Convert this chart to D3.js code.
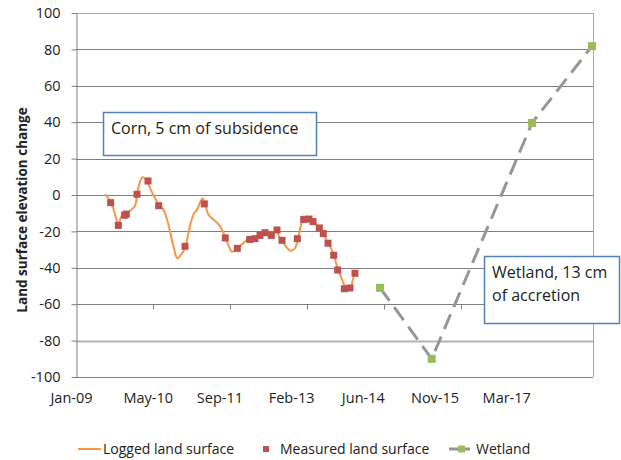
<!DOCTYPE html>
<html>
<head>
<meta charset="utf-8">
<script src="https://cdn.jsdelivr.net/npm/d3@7"></script>
<style>
  body { margin: 0; background: #fff; }
  text { font-family: "Open Sans", sans-serif; fill: #222; }
</style>
</head>
<body>
<div id="chart"></div>
<script>

// decimal years
var loggedYears = [2009.554, 2009.662, 2009.732, 2009.808, 2009.872, 2009.948, 2010.063, 2010.126, 2010.165, 2010.209,
    2010.266, 2010.324, 2010.387, 2010.476, 2010.578, 2010.667, 2010.731, 2010.795, 2010.858, 2010.935,
    2010.998, 2011.081, 2011.132, 2011.189, 2011.253, 2011.316, 2011.367, 2011.418, 2011.469, 2011.533,
    2011.635, 2011.736, 2011.826, 2011.908, 2011.978, 2012.080, 2012.169, 2012.246, 2012.322, 2012.417,
    2012.513, 2012.608, 2012.704, 2012.799, 2012.837, 2012.876, 2012.939, 2013.022, 2013.099, 2013.175,
    2013.226, 2013.270, 2013.327, 2013.404, 2013.480, 2013.544, 2013.607, 2013.671, 2013.735, 2013.798,
    2013.862, 2013.926, 2013.989, 2014.053, 2014.123, 2014.180, 2014.244, 2014.288, 2014.326];
var loggedValues = [0.5, -3.7, -9.2, -15.9, -11.5, -10.4, -7.9, -6.0, 0.4, 6.0,
    9.7, 9.0, 5.5, 0, -5.1, -7.9, -12.8, -20.1, -28.0, -34.8,
    -33.0, -29.3, -22.9, -15.6, -10.1, -7.9, -4.2, -1.8, -5.5, -11.0,
    -13.7, -16.5, -21.4, -27.5, -31.1, -29.9, -27.1, -25.1, -24.2, -23.6,
    -22.0, -20.3, -21.4, -20.3, -19.6, -22.9, -25.1, -28.8, -30.6, -29.5,
    -25.6, -19.6, -14.1, -12.8, -13.4, -14.8, -16.8, -19.2, -22.2, -25.5,
    -28.8, -33.5, -39.7, -44.5, -49.5, -51.8, -50.7, -46.3, -43.0];

var measuredYears = [2009.662, 2009.808, 2009.929, 2009.961, 2010.165, 2010.375, 2010.578, 2011.081, 2011.450, 2011.850,
    2012.080, 2012.316, 2012.417, 2012.513, 2012.608, 2012.729, 2012.837, 2012.933, 2013.225, 2013.347,
    2013.448, 2013.525, 2013.645, 2013.721, 2013.811, 2013.920, 2013.996, 2014.122, 2014.231, 2014.326];
var measuredValues = [-4.2, -16.7, -11.1, -10.5, 0.4, 7.7, -5.9, -28.2, -4.9, -23.6,
    -29.3, -24.4, -24.0, -22.2, -20.7, -22.2, -19.2, -24.9, -24.0, -13.4,
    -13.2, -14.6, -18.1, -21.2, -26.5, -33.1, -41.2, -51.5, -51.1, -43.0];

var wetlandYears = [2014.804, 2015.791, 2017.706, 2018.851];
var wetlandValues = [-51, -90, 39.6, 81.8];

var yTicks = [-100, -80, -60, -40, -20, 0, 20, 40, 60, 80, 100];
var xTickDays = [0, 500, 1000, 1500, 2000, 2500, 3000];
var xTickLabels = ["Jan-09", "May-10", "Sep-11", "Feb-13", "Jun-14", "Nov-15", "Mar-17"];

var legendLabels = ["Logged land surface", "Measured land surface", "Wetland"];
var noteCorn = ["Corn, 5 cm of subsidence"];
var noteWetland = ["Wetland, 13 cm", "of accretion"];

var w = 621, h = 460;
var margin = {top: 13, right: 28, bottom: 83, left: 76};
var pw = w - margin.left - margin.right;
var ph = h - margin.top - margin.bottom;

var start = Date.UTC(2009, 0, 1);
function toDate(yr) { return new Date(start + (yr - 2009) * 365.25 * 864e5); }
function dayDate(d) { return new Date(start + d * 864e5); }

var x = d3.scaleUtc().domain([dayDate(0), dayDate(3605)]).range([0, pw]);
var y = d3.scaleLinear().domain([-100, 100]).range([ph, 0]);

var svg = d3.select("#chart").append("svg")
    .attr("width", w)
    .attr("height", h);

var g = svg.append("g").attr("transform", "translate(" + margin.left + "," + margin.top + ")");

// gridlines
g.selectAll(".grid")
    .data(yTicks.filter(function(d) { return d > -100 && d < 100; }))
    .enter().append("line")
    .attr("x1", 0).attr("x2", pw)
    .attr("y1", function(d) { return Math.round(y(d)) + 0.5; })
    .attr("y2", function(d) { return Math.round(y(d)) + 0.5; })
    .attr("stroke", function(d) { return d == -80 ? "#b4b4b4" : "#7f7f7f"; })
    .attr("stroke-width", function(d) { return d == -80 ? 2 : 1; });

// frame
g.append("line").attr("x1", 0).attr("x2", pw).attr("y1", 0.5).attr("y2", 0.5).attr("stroke", "#a6a6a6");
g.append("line").attr("x1", pw + 0.5).attr("x2", pw + 0.5).attr("y1", 0).attr("y2", ph).attr("stroke", "#a6a6a6");
g.append("line").attr("x1", 0).attr("x2", pw).attr("y1", ph + 0.5).attr("y2", ph + 0.5).attr("stroke", "#7f7f7f");

// leftover tick marks of the overlaid corn chart on the -60 line
var cornAxis = d3.scaleLinear().domain([0, 6]).range([0, 462]);
g.append("g")
    .attr("transform", "translate(0," + (Math.round(y(-60)) + 0.5) + ")")
    .call(d3.axisBottom(cornAxis).tickValues([1, 2, 3, 4, 5]).tickSize(5).tickSizeOuter(0).tickFormat(""))
    .call(function(s) {
        s.select(".domain").remove();
        s.selectAll("line").attr("stroke", "#7f7f7f");
    });

// y axis
var yAxis = d3.axisLeft(y).tickValues(yTicks).tickSize(5).tickSizeOuter(0).tickPadding(11)
    .tickFormat(function(d) { return String(d); });
g.append("g")
    .attr("transform", "translate(0.5,0)")
    .call(yAxis)
    .call(function(s) {
        s.select(".domain").attr("stroke", "#7f7f7f");
        s.selectAll("line").attr("stroke", "#7f7f7f");
        s.selectAll("text").attr("font-size", "14.5px").attr("font-family", "Open Sans").attr("fill", "#222");
    });

// x axis: labels only
var xAxis = d3.axisBottom(x)
    .tickValues(xTickDays.map(dayDate))
    .tickSize(0)
    .tickPadding(16)
    .tickFormat(function(d, i) { return xTickLabels[i]; });
g.append("g")
    .attr("transform", "translate(0," + ph + ")")
    .call(xAxis)
    .call(function(s) {
        s.select(".domain").remove();
        s.selectAll("text").attr("font-size", "14.5px").attr("font-family", "Open Sans").attr("fill", "#222")
            .attr("dx", function(d, i) { return i == 0 ? -5 : 0; });
    });

svg.append("text")
    .attr("transform", "translate(22," + 210 + ") rotate(-90)")
    .attr("text-anchor", "middle")
    .attr("dy", "0.35em")
    .attr("font-size", "13.5px")
    .attr("font-weight", "bold")
    .text("Land surface elevation change");

// logged line
var logged = loggedYears.map(function(d, i) { return [toDate(d), loggedValues[i]]; });
g.append("path")
    .datum(logged)
    .attr("fill", "none")
    .attr("stroke", "#f79646")
    .attr("stroke-width", 2)
    .attr("d", d3.line()
        .x(function(d) { return x(d[0]); })
        .y(function(d) { return y(d[1]); })
        .curve(d3.curveCatmullRom));

// measured points
g.selectAll(".measured")
    .data(measuredYears)
    .enter().append("rect")
    .attr("x", function(d) { return x(toDate(d)) - 3.5; })
    .attr("y", function(d, i) { return y(measuredValues[i]) - 3.5; })
    .attr("width", 7).attr("height", 7)
    .attr("fill", "#c0504d");

// wetland
var wetland = wetlandYears.map(function(d, i) { return [toDate(d), wetlandValues[i]]; });
g.append("path")
    .datum(wetland)
    .attr("fill", "none")
    .attr("stroke", "#969696")
    .attr("stroke-width", 3)
    .attr("stroke-dasharray", "16,8")
    .attr("d", d3.line()
        .x(function(d) { return x(d[0]); })
        .y(function(d) { return y(d[1]); }));

g.selectAll(".wet")
    .data(wetland)
    .enter().append("rect")
    .attr("x", function(d) { return x(d[0]) - 4; })
    .attr("y", function(d) { return y(d[1]) - 4; })
    .attr("width", 8).attr("height", 8)
    .attr("fill", "#9bbb59");

// annotation boxes
function note(lines, bx, by, bw, bh) {
    svg.append("rect")
        .attr("x", bx + 0.5).attr("y", by + 0.5)
        .attr("width", bw).attr("height", bh)
        .attr("fill", "#fff")
        .attr("stroke", "#4f81bd")
        .attr("stroke-width", 1.5);
    svg.selectAll(null)
        .data(lines)
        .enter().append("text")
        .attr("x", bx + 8)
        .attr("y", function(d, i) { return by + 22 + i * 23; })
        .attr("font-size", "16px")
        .text(function(d) { return d; });
}
note(noteCorn, 103, 112, 213, 43);
note(noteWetland, 484, 256, 135, 67);

// legend
var leg = svg.append("g").attr("transform", "translate(0,449)");
leg.append("line").attr("x1", 78).attr("x2", 101).attr("stroke", "#f79646").attr("stroke-width", 2);
leg.append("rect").attr("x", 263).attr("y", -3).attr("width", 6).attr("height", 6).attr("fill", "#c0504d");
leg.append("line").attr("x1", 449).attr("x2", 470).attr("stroke", "#969696").attr("stroke-width", 3);
leg.append("rect").attr("x", 458).attr("y", -3.5).attr("width", 7).attr("height", 7).attr("fill", "#9bbb59");
leg.selectAll(".lt")
    .data(legendLabels)
    .enter().append("text")
    .attr("x", function(d, i) { return [103, 280, 476][i]; })
    .attr("dy", "0.35em")
    .attr("font-size", "14px")
    .text(function(d) { return d; });

</script>
</body>
</html>
